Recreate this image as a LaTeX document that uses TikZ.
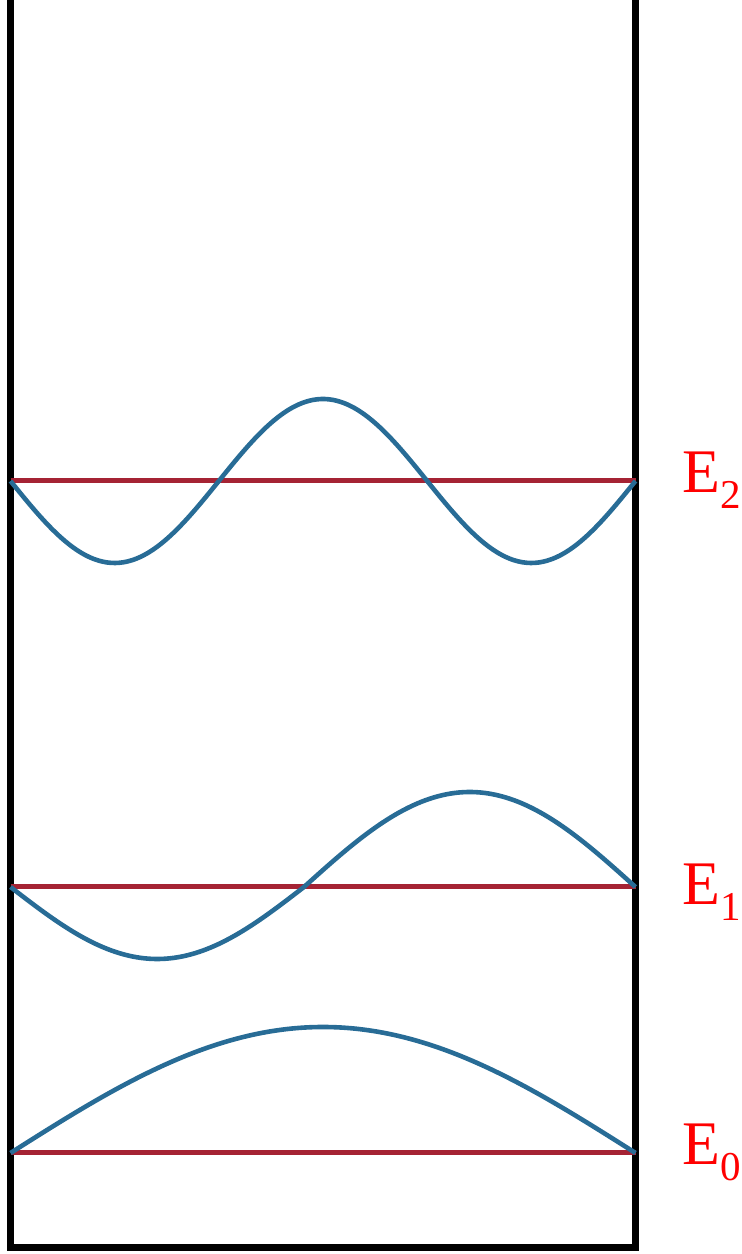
\documentclass[tikz,border=0pt]{standalone}
\usepackage{fontspec}
\setmainfont{Liberation Serif}
\begin{document}
\begin{tikzpicture}[x=1pt,y=1pt]
\definecolor{lvl}{RGB}{165,35,52}
\definecolor{wav}{RGB}{40,108,150}
\definecolor{lab}{RGB}{255,0,0}
\tikzset{
  wall/.style={line width=7pt,black,line join=miter},
  level/.style={line width=5pt,lvl},
  wave/.style={line width=4.6pt,wav,line join=round},
  elabel/.style={anchor=base west,inner sep=0pt,text=lab,font=\fontsize{62}{70}\selectfont}
}
\newcommand{\esub}[1]{E\raisebox{-16pt}{\fontsize{41}{45}\selectfont #1}}
\useasboundingbox (0,0) rectangle (742,1254);
% walls
\coordinate (tl) at (10.5,1254);
\coordinate (bl) at (10.5,6);
\coordinate (br) at (635.5,6);
\coordinate (tr) at (635.5,1254);
\draw[wall] (tl) -- (bl) -- (br) -- (tr);
% energy levels
\coordinate (l2a) at (10.5,773);  \coordinate (l2b) at (635.5,773);
\coordinate (l1a) at (10.5,367);  \coordinate (l1b) at (635.5,367);
\coordinate (l0a) at (10.5,101);  \coordinate (l0b) at (635.5,101);
\draw[level] (l2a) -- (l2b);
\draw[level] (l1a) -- (l1b);
\draw[level] (l0a) -- (l0b);
% wave functions
\draw[wave] plot[domain=10.5:635.5,samples=150,smooth] (\x,{773-82*sin(0.864*(\x-10.5))});
\draw[wave] plot[domain=10.5:304,samples=80,smooth] (\x,{367-72*sin(0.61329*(\x-10.5))})
   -- plot[domain=304:635.5,samples=80,smooth] (\x,{367+95*sin(0.54299*(\x-304))});
\draw[wave] plot[domain=10.5:635.5,samples=120,smooth] (\x,{101+126*sin(0.288*(\x-10.5))});
% labels
\node[elabel] (e2) at (682,761) {\esub{2}};
\node[elabel] (e1) at (682,349) {\esub{1}};
\node[elabel] (e0) at (682,89) {\esub{0}};
\end{tikzpicture}
\end{document}
